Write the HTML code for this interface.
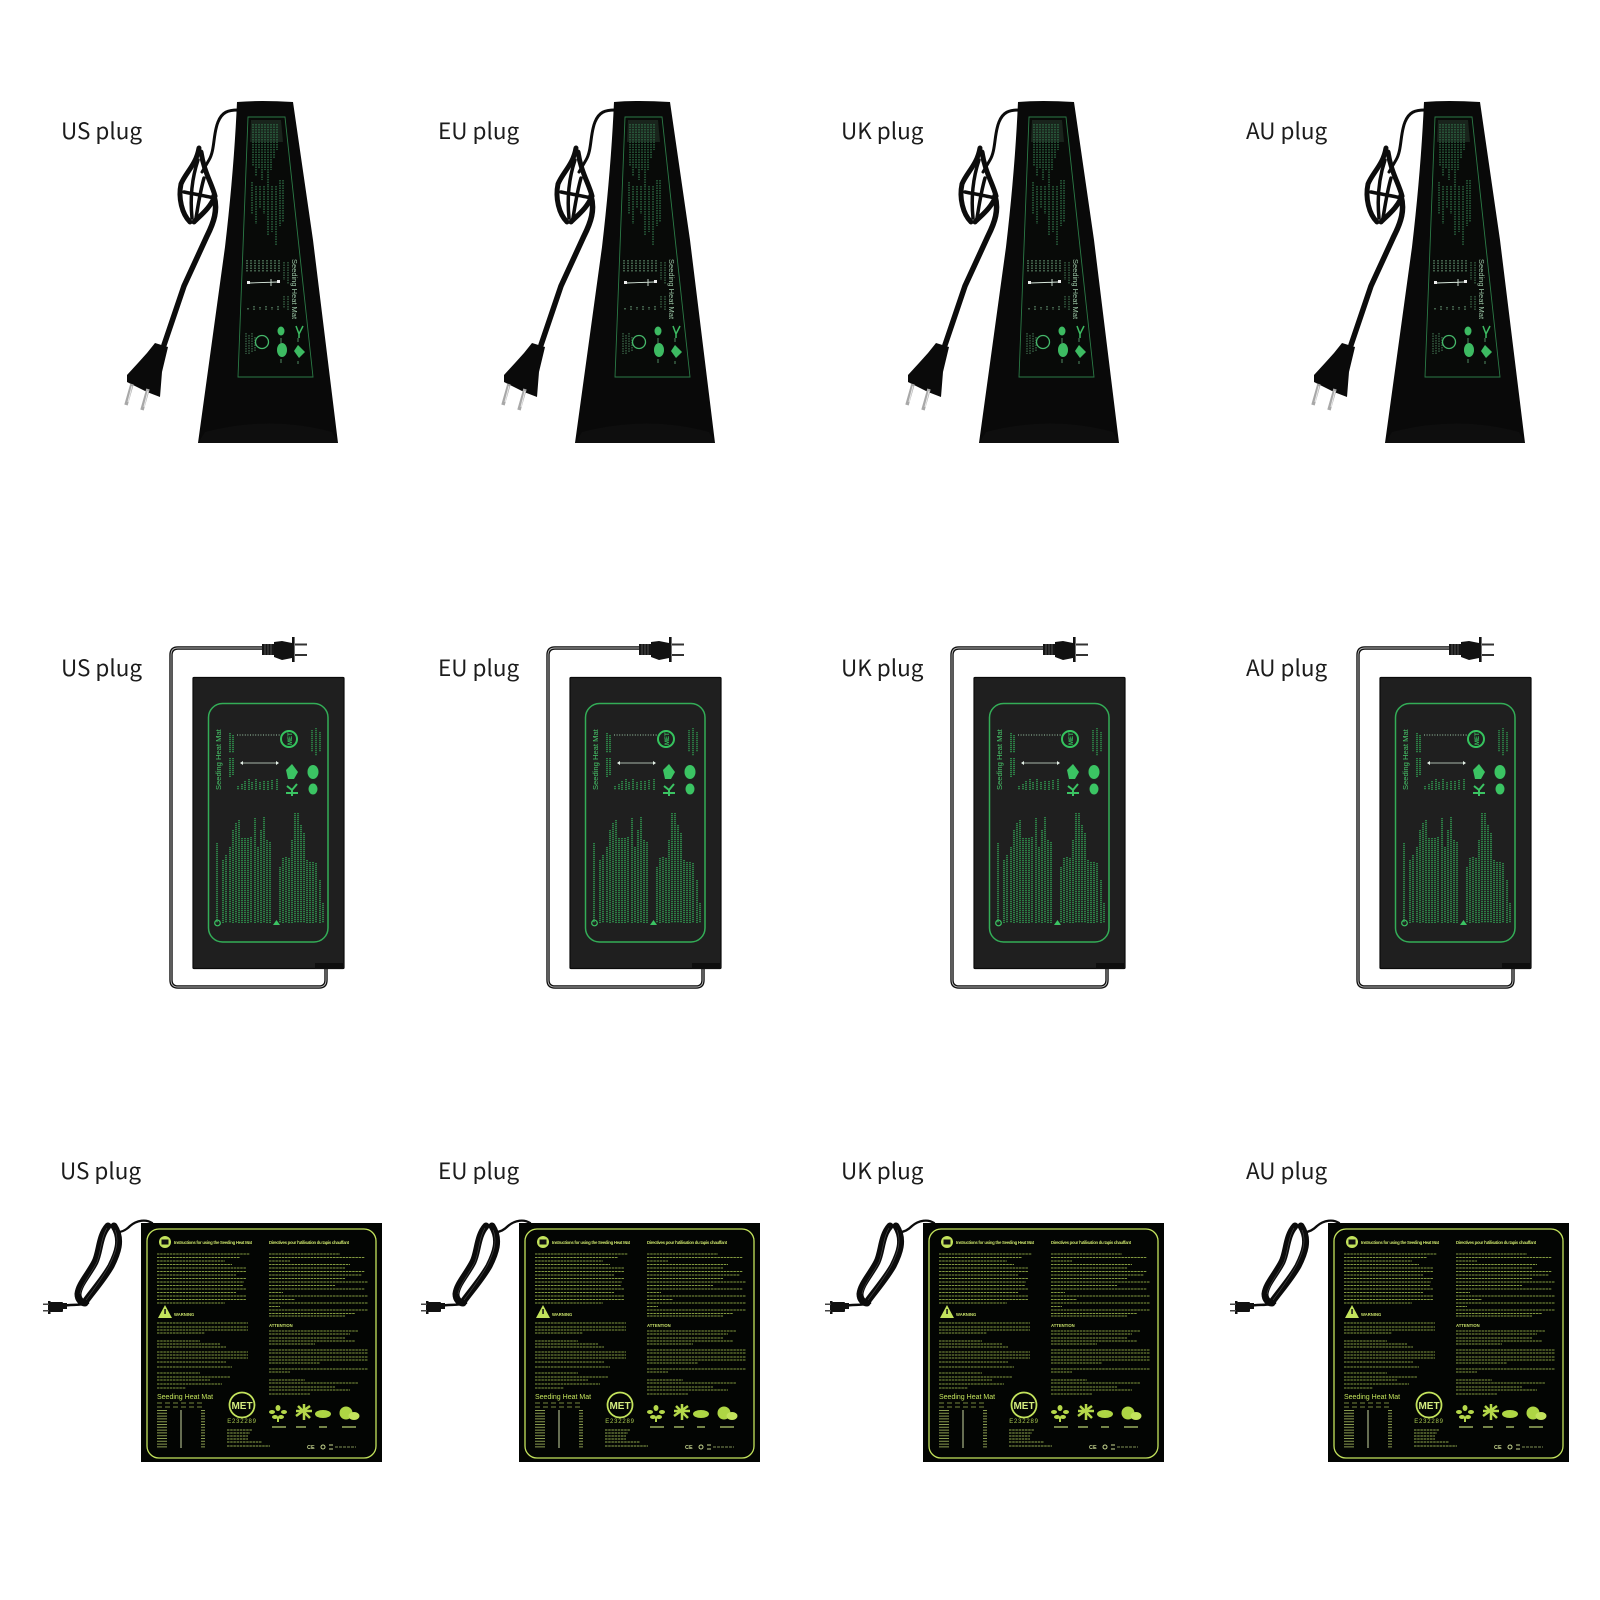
<!DOCTYPE html>
<html><head><meta charset="utf-8"><style>
html,body{margin:0;padding:0;background:#fff}
svg{display:block}
.l{font-family:"Noto Sans CJK SC","Liberation Sans",sans-serif;font-size:22.5px;fill:#1c1c1c}
.m{font-family:"Liberation Sans",sans-serif}
</style></head><body>
<svg width="1600" height="1600" viewBox="0 0 1600 1600" xmlns="http://www.w3.org/2000/svg">
<rect width="1600" height="1600" fill="#fff"/>
<defs>
<g id="a">
<g fill="none" stroke="#0c0c0c" stroke-linecap="round">
<path d="M238 110C228 110 222 112 218 122C213 134 215 150 209 160L202 172" stroke-width="3"/>
<path d="M214 196C218 210 214 222 207 236L184 286L164 345" stroke-width="5.500"/>
<path d="M199 148C196 165 186 172 181 184C178 198 182 214 190 222" stroke-width="5"/>
<path d="M201 152C204 172 212 184 215 196C210 208 202 214 194 222" stroke-width="5"/>
<path d="M198 160C192 178 190 198 192 218M204 178C200 192 198 206 196 218M184 192C194 194 206 196 214 198" stroke-width="3.500"/>
</g>
<polygon points="155,343 168,347 162,372 160,397 147,392 127,382 127,375 138,363 147,353" fill="#0a0a0a"/>
<path d="M132 384L126 405M148 389L142 410" stroke="#a8a8a8" stroke-width="3.500" fill="none"/>
<path d="M132 386L128 402M148 391L144 407" stroke="#e8e8e8" stroke-width="1" fill="none"/>
<path d="M237 102Q260 100 293 102L313 240L338 443L198 443L225 247Q234 170 237 102Z" fill="#090909"/>
<path d="M205 432Q270 415 332 432L338 443L198 443Z" fill="#0e0e0e"/>
<polygon points="248,117 285,117 313,377 238,377" fill="#080a08" stroke="#2b7a46" stroke-width=".9"/>
<polygon points="251,120 281,120 283,142 250,142" fill="#19241c"/>
<g fill="none" stroke-dasharray="1.500 1">
<path d="M253 124V166M256 124V176M259 124V168M262 124V180M265 124V170M268 124V186M271 124V170M274 124V158M277 124V150M252 182V214M256 186V224M260 186V208M264 186V214M268 186V236M272 186V232M276 186V246M280 180V226M283 180V222" stroke="#2f6f47" stroke-width="1.300"/>
<path d="M247 260V272M251 260V272M255 260V272M259 260V272M263 260V272M267 260V272M271 260V272M275 260V272M279 260V272M248 308V310M254 306V310M260 307V310M266 306V310M272 307V310M278 306V310" stroke="#6fa27e" stroke-width="1.100"/>
<path d="M284 262V280M288 262V284M284 296V308M288 296V310M246 333V354M249 335V354M252 333V352M255 337V352" stroke="#47805a" stroke-width="1"/>
</g>
<text class="m" transform="translate(292,259) rotate(90)" font-size="7.500" fill="#9cc7a6">Seeding Heat Mat</text>
<path d="M249 283L278 282M271 279V286" stroke="#d8e8dc" stroke-width=".9" fill="none"/>
<rect x="247" y="281" width="3" height="3" fill="#eee"/><rect x="277" y="280" width="3" height="3" fill="#eee"/>
<circle cx="262" cy="342" r="6.500" fill="none" stroke="#45b86a" stroke-width="1.300"/>
<ellipse cx="281" cy="331" rx="3.500" ry="4.500" fill="#3dbb62"/>
<path d="M296 326L299 334L303 326M299 334V338" stroke="#3dbb62" stroke-width="1.500" fill="none"/>
<ellipse cx="282" cy="350" rx="5" ry="7" fill="#3dbb62"/>
<polygon points="298,345 305,352 299,358 294,351" fill="#3dbb62"/>
<path d="M281 338V344M298 338V342M281 359V363M298 361V364" stroke="#4f8a62" stroke-width="1"/>
</g>
<g id="b">
<path d="M262 648H178Q171 648 171 655V980Q171 987 178 987H319Q326 987 326 980V968" fill="none" stroke="#0d0d0d" stroke-width="3.400"/>
<path d="M262 648H178Q171 648 171 655V980Q171 987 178 987H319Q326 987 326 980V968" fill="none" stroke="#bdbdbd" stroke-width=".9"/>
<rect x="262" y="644" width="12" height="11" fill="#151515"/>
<path d="M265 644V655M268 644V655M271 644V655" stroke="#777" stroke-width=".6"/>
<polygon points="274,642 282,641 292,643 292,658 282,660 274,657" fill="#111"/>
<rect x="292" y="637" width="2.600" height="25" fill="#111"/>
<rect x="295" y="643.500" width="12" height="2" fill="#333"/><rect x="295" y="654" width="12" height="2" fill="#333"/>
<rect x="193" y="677.500" width="151" height="291" rx="1" fill="#1f1f1f" stroke="#0a0a0a" stroke-width="1.200"/>
<rect x="315" y="963" width="28" height="6" fill="#0e0e0e"/>
<rect x="208.500" y="703.500" width="119.500" height="238.500" rx="14" fill="none" stroke="#33ad57" stroke-width="1.500"/>
<text class="m" transform="translate(221,790) rotate(-90)" font-size="7.600" fill="#46c468">Seeding Heat Mat</text>
<path d="M237 735H280" stroke="#9fc8a8" stroke-width=".9" stroke-dasharray="1 1.600"/>
<path d="M241 763H277" stroke="#d6e8da" stroke-width=".8"/>
<path d="M240 763L243 761V765ZM279 763L276 761V765Z" fill="#e4f0e6"/>
<g fill="none" stroke="#2f8f4c" stroke-width="1.700" stroke-dasharray="1.200 .8">
<path d="M230 733V753M233 735V753M230 758V777M233 758V775M238 786V790M242 784V790M245 781V790M249 779V790M252 782V790M256 779V790M260 782V790M264 781V790M268 781V790M272 780V790M277 779V790"/>
<path d="M217 843V923M223 860V923M226 855V923M230 847V923M233 830V923M236 823V923M239 820V923M242 838V923M245 838V923M248 838V923M251 837V923M255 818V923M258 847V923M261 830V923M264 817V923M267 840V923M270 842V923M280 867V923M283 858V923M286 857V923M289 858V923M292 840V923M295 813V923M298 813V923M301 825V923M304 833V923M307 860V923M310 862V923M313 862V923M316 863V923M320 880V923M323 903V923"/>
<path d="M312 730V752M316 728V756M320 732V752" stroke-width="1.500"/>
</g>
<circle cx="289" cy="739" r="8" fill="#1f1f1f" stroke="#35c45e" stroke-width="2"/>
<text class="m" transform="translate(292,745) rotate(-90)" font-size="6" font-weight="bold" fill="#35c45e">MET</text>
<path d="M286 770L292 764L298 772L294 779H288Z" fill="#3bc463"/>
<ellipse cx="313" cy="772" rx="5.500" ry="7" fill="#3bc463"/>
<ellipse cx="313" cy="789" rx="4.500" ry="5.500" fill="#3bc463"/>
<path d="M287 786L292 790L297 784M292 790V796M286 793L298 793" stroke="#3bc463" stroke-width="2" fill="none"/>
<circle cx="217.500" cy="923" r="2.800" fill="none" stroke="#3bc463" stroke-width="1.200"/>
<path d="M276.500 920L280 925H273Z" fill="#3bc463"/>
</g>
<g id="c">
<g fill="none" stroke="#0b0b0b" stroke-linecap="round">
<path d="M152 1223C146 1219 137 1220 130 1226C126 1230 122 1232 118 1232" stroke-width="2.300"/>
<path d="M108 1226C99 1236 100 1252 95 1262C89 1274 79 1284 78 1294C78 1300 82 1303 85 1303" stroke-width="7"/>
<path d="M114 1226C123 1240 117 1254 111 1266C103 1280 92 1292 85 1302" stroke-width="7"/>
<path d="M88 1303C80 1306 72 1304 62 1306" stroke-width="2.500"/>
</g>
<path d="M107 1228C101 1238 101 1252 97 1262C91 1274 82 1284 80 1294M115 1230C120 1242 115 1254 109 1266C101 1280 92 1292 86 1300" fill="none" stroke="#4a4a4a" stroke-width=".6"/>
<rect x="50" y="1302" width="13" height="10" rx="1" fill="#111"/>
<rect x="61" y="1303" width="6" height="6" fill="#111"/>
<rect x="48" y="1301" width="2.500" height="13" fill="#111"/>
<rect x="43" y="1303.500" width="6" height="1.500" fill="#444"/><rect x="43" y="1310" width="6" height="1.500" fill="#444"/>
<rect x="141" y="1223" width="241" height="239" fill="#030503"/>
<rect x="147" y="1229" width="229" height="229" rx="12" fill="none" stroke="#c3e35c" stroke-width="1.300"/>
<circle cx="165" cy="1242" r="6" fill="#c3e35c"/>
<rect x="161.500" y="1239.500" width="7" height="5" fill="#111"/>
<text class="m" x="174" y="1244" font-size="4.300" font-weight="bold" fill="#c8e06a" textLength="78">Instructions for using the Seeding Heat Mat</text>
<text class="m" x="269" y="1244" font-size="4.300" font-weight="bold" fill="#c8e06a" textLength="80">Directives pour l'utilisation du tapis chauffant</text>
<g fill="none" stroke="#82993f" stroke-width="1" stroke-dasharray="2.500 .7">
<path d="M157 1254H250M157 1257.500H240M157 1261H225M157 1264.500H232M157 1268H246M157 1271.500H246M157 1275H236M157 1278.500H246M157 1282H244M157 1285.500H243M157 1289H246M157 1292.500H236M157 1296H246M157 1299.500H246M157 1303H225"/>
<path d="M157 1323H248M157 1327H248M157 1330H248M157 1333H205M157 1341H200M157 1344H220M157 1347H226"/>
<path d="M157 1352H248M157 1355H248M157 1358H248M157 1362H226M157 1367H232"/>
<path d="M157 1373H200M157 1377H230M157 1380H210M157 1384H222M157 1388H186"/>
<path d="M269 1254H340M269 1257.500H365M269 1261H290M269 1264.500H350M269 1268H345M269 1271.500H365M269 1275H362M269 1278.500H345M269 1282H368M269 1285.500H335M269 1289H365M269 1292.500H283M269 1296H368M269 1299.500H295M269 1303H368M269 1306.500H280M269 1310H368M269 1313.500H355M269 1316H345"/>
<path d="M269 1331H358M269 1334H350M269 1338H345M269 1341H355M269 1344H315M269 1350H368M269 1353H368M269 1357H368M269 1360H368M269 1363H320M269 1369H368M269 1372H290"/>
<path d="M269 1380H305M269 1383H358M269 1387H335M269 1390H350M269 1394H310"/>
</g>
<polygon points="165,1305 158,1318 172,1318" fill="#c3e35c"/>
<rect x="164.300" y="1309" width="1.500" height="5" fill="#111"/>
<text class="m" x="174" y="1316" font-size="4.200" font-weight="bold" fill="#c8e06a">WARNING</text>
<text class="m" x="269" y="1327" font-size="4.200" font-weight="bold" fill="#c8e06a">ATTENTION</text>
<text class="m" x="157" y="1399" font-size="7" fill="#c3e35c">Seeding Heat Mat</text>
<path d="M157 1403H204M157 1407H204" stroke="#75883c" stroke-width="1" stroke-dasharray="5 3"/>
<path d="M162 1410V1448" stroke="#8a9c50" stroke-width="10" stroke-dasharray="1 1.800"/>
<path d="M203 1410V1448" stroke="#8a9c50" stroke-width="4" stroke-dasharray="1 1.800"/>
<path d="M181 1410V1448" stroke="#c8d8a0" stroke-width="1"/>
<circle cx="242" cy="1405" r="12.500" fill="none" stroke="#c3e35c" stroke-width="1.800"/>
<text class="m" x="242" y="1409" text-anchor="middle" font-size="10" font-weight="bold" fill="#d4ec80">MET</text>
<text class="m" x="242" y="1423" text-anchor="middle" font-size="6" fill="#a8c850" letter-spacing=".8">E232289</text>
<path d="M227 1430H252M227 1433H250M227 1436H248M227 1439H248M227 1442H262M227 1446H270" stroke="#8fa84c" stroke-width="1" stroke-dasharray="2.500 .7"/>
<ellipse cx="272" cy="1412" rx="3" ry="2" fill="#b5d84a"/><ellipse cx="278" cy="1408" rx="2.500" ry="3" fill="#b5d84a"/><ellipse cx="284" cy="1412" rx="3" ry="2" fill="#b5d84a"/><ellipse cx="275" cy="1417" rx="3" ry="2" fill="#b5d84a"/><ellipse cx="281" cy="1417" rx="3" ry="2" fill="#b5d84a"/><rect x="277" y="1417" width="2" height="5" fill="#b5d84a"/>
<path d="M296 1416L310 1406M298 1406L310 1418M304 1404V1420M296 1411H312" stroke="#b5d84a" stroke-width="2.500" fill="none"/>
<ellipse cx="323" cy="1414" rx="8" ry="4" fill="#aed644"/>
<circle cx="346" cy="1413" r="6.500" fill="#aed644"/>
<ellipse cx="354" cy="1416" rx="5.500" ry="4" fill="#c3e35c"/>
<path d="M272 1427H286M296 1427H306M319 1427H327M342 1427H356" stroke="#b8d070" stroke-width="1.200"/>
<text class="m" x="307" y="1449" font-size="5.500" font-weight="bold" fill="#c8d890">CE</text>
<circle cx="323" cy="1447" r="2" fill="none" stroke="#c8d890"/>
<path d="M329 1445H333M329 1449H333" stroke="#c8d890"/>
<path d="M335 1447H356" stroke="#7f8f55" stroke-width="1" stroke-dasharray="3 1"/>
</g>
</defs>

<use href="#a"/><use href="#a" x="377"/><use href="#a" x="781"/><use href="#a" x="1187"/>
<use href="#b"/><use href="#b" x="377"/><use href="#b" x="781"/><use href="#b" x="1187"/>
<use href="#c"/><use href="#c" x="378"/><use href="#c" x="782"/><use href="#c" x="1187"/>

<text class="l" x="61" y="139">US plug</text><text class="l" x="438" y="139">EU plug</text><text class="l" x="841" y="139">UK plug</text><text class="l" x="1246" y="139">AU plug</text>
<text class="l" x="61" y="676">US plug</text><text class="l" x="438" y="676">EU plug</text><text class="l" x="841" y="676">UK plug</text><text class="l" x="1246" y="676">AU plug</text>
<text class="l" x="60" y="1179">US plug</text><text class="l" x="438" y="1179">EU plug</text><text class="l" x="841" y="1179">UK plug</text><text class="l" x="1246" y="1179">AU plug</text>
</svg>
</body></html>
